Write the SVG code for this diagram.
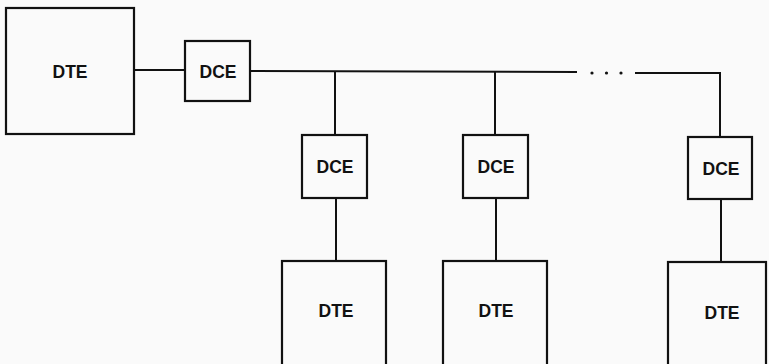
<svg xmlns="http://www.w3.org/2000/svg" width="769" height="364" viewBox="0 0 769 364">
<style>
.box{fill:none;stroke:#111;stroke-width:2.2}
.ln{fill:none;stroke:#111;stroke-width:2}
.lbl{font-family:"Liberation Sans",Arial,sans-serif;font-weight:bold;font-size:17.5px;fill:#111;text-anchor:middle;dominant-baseline:central}
.dot{fill:#111}
</style>
<rect width="769" height="364" fill="#fafafa"/>
<g id="connectors">
<line class="ln" x1="134" y1="70" x2="185" y2="70"/>
<polyline class="ln" points="250,71 577,72"/>
<circle class="dot" cx="592" cy="73" r="1.6"/>
<circle class="dot" cx="606.5" cy="73" r="1.6"/>
<circle class="dot" cx="621" cy="73" r="1.6"/>
<polyline class="ln" points="635,73 720,73 720,137"/>
<line class="ln" x1="335" y1="71" x2="335" y2="135"/>
<line class="ln" x1="495" y1="72" x2="495" y2="135"/>
<line class="ln" x1="336" y1="198" x2="336" y2="261"/>
<line class="ln" x1="496" y1="198" x2="496" y2="261"/>
<line class="ln" x1="721" y1="199" x2="721" y2="262"/>
</g>
<g id="dte0"><rect class="box" x="6" y="8" width="128" height="126"/><text class="lbl" x="70" y="72">DTE</text></g>
<g id="dce0"><rect class="box" x="185" y="41" width="65" height="60"/><text class="lbl" x="218" y="72">DCE</text></g>
<g id="dce1"><rect class="box" x="302" y="135" width="65" height="63"/><text class="lbl" x="335" y="167">DCE</text></g>
<g id="dce2"><rect class="box" x="463" y="135" width="65" height="63"/><text class="lbl" x="496" y="167">DCE</text></g>
<g id="dce3"><rect class="box" x="688" y="137" width="64" height="62"/><text class="lbl" x="721" y="169">DCE</text></g>
<g id="dte1"><rect class="box" x="282" y="261" width="104" height="112"/><text class="lbl" x="336" y="311">DTE</text></g>
<g id="dte2"><rect class="box" x="443" y="261" width="104" height="112"/><text class="lbl" x="496" y="311">DTE</text></g>
<g id="dte3"><rect class="box" x="668" y="262" width="98" height="112"/><text class="lbl" x="722" y="313">DTE</text></g>
</svg>
